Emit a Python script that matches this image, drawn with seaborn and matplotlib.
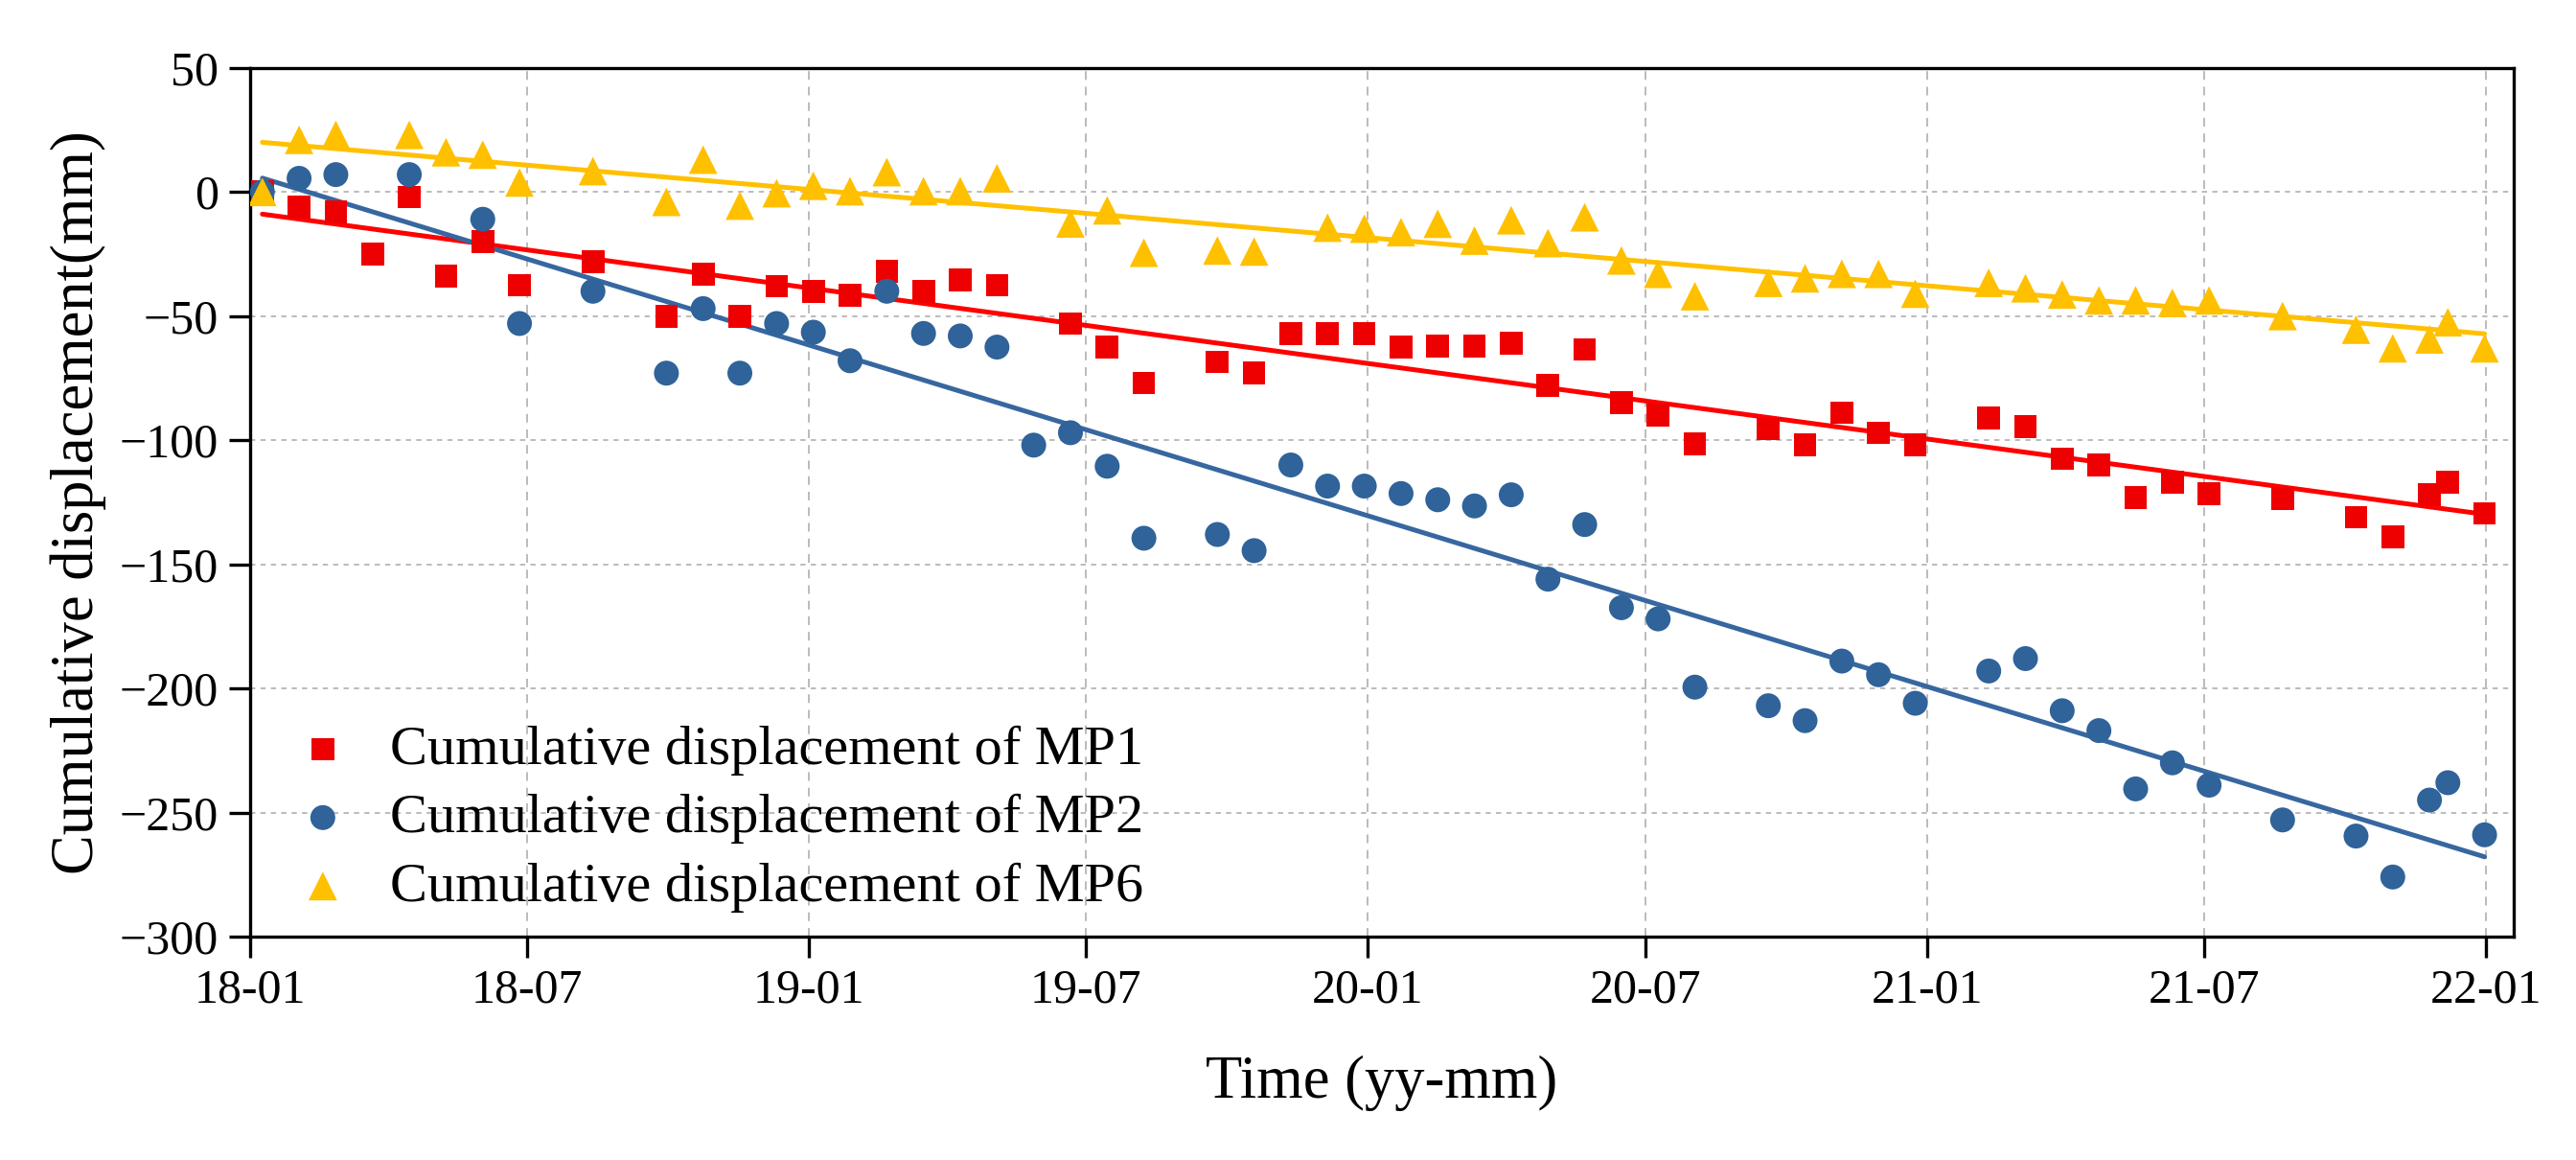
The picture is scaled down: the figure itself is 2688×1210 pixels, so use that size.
import matplotlib
matplotlib.use("Agg")
import matplotlib.pyplot as plt
import matplotlib.dates as mdates
import numpy as np
import pandas as pd
import seaborn as sns

# Measurement dates (yy-mm-dd), shared by the three monitoring points
dates = [
    "2018-01-09", "2018-02-02", "2018-02-26", "2018-03-22", "2018-04-15", "2018-05-09", "2018-06-02", "2018-06-26",
    "2018-08-13", "2018-09-30", "2018-10-24", "2018-11-17", "2018-12-11", "2019-01-04", "2019-01-28", "2019-02-21",
    "2019-03-17", "2019-04-10", "2019-05-04", "2019-05-28", "2019-06-21", "2019-07-15", "2019-08-08", "2019-09-25",
    "2019-10-19", "2019-11-12", "2019-12-06", "2019-12-30", "2020-01-23", "2020-02-16", "2020-03-11", "2020-04-04",
    "2020-04-28", "2020-05-22", "2020-06-15", "2020-07-09", "2020-08-02", "2020-09-19", "2020-10-13", "2020-11-06",
    "2020-11-30", "2020-12-24", "2021-02-10", "2021-03-06", "2021-03-30", "2021-04-23", "2021-05-17", "2021-06-10",
    "2021-07-04", "2021-08-21", "2021-10-08", "2021-11-01", "2021-11-25", "2021-12-07", "2021-12-31",
]

nan = np.nan
mp1 = [0, -6, -8, -25, -2, -34, -20, -37.5,
       -28, -50, -33, -50, -38, -40, -41.5, -32,
       -40, -35.5, -37.5, nan, -53, -62.5, -77, -68.5,
       -73, -57, -57, -57, -62.5, -62, -62, -61,
       -78, -63.5, -85, -90, -101.5, -95.5, -102, -89,
       -97, -102, -91, -94.5, -107.5, -110, -123, -117,
       -121.5, -123.5, -131, -139, -122, -117, -129.5]
mp2 = [0, 5.5, 7, nan, 7, nan, -11, -53,
       -40, -73, -47, -73, -53, -56.5, -68, -40,
       -57, -58, -62.5, -102, -97, -110.5, -139.5, -138,
       -144.5, -110, -118.5, -118.5, -121.5, -124, -126.5, -122,
       -156, -134, -167.5, -172, -199.5, -207, -213, -189,
       -194.5, -206, -193, -188, -209, -217, -240.5, -230,
       -239, -253, -259.5, -276, -245, -238, -259]
mp6 = [0, 21, 23, nan, 23, 16, 15, 3.8,
       8.4, -4, 13, -5.5, -0.5, 2.5, 0.3, 8,
       0.3, 0.3, 5.5, nan, -12.7, -7.4, -24.5, -23.6,
       -24, nan, -14.4, -14.8, -16.2, -12.8, -19.6, -11.4,
       -20.6, -10.2, -27.6, -33, -42, -36.6, -34.8, -33,
       -33, -41, -36.6, -38.8, -41.3, -43.7, -43.7, -44.7,
       -43.7, -50, -55.5, -63, -59.4, -52.5, -63]

labels = ["Cumulative displacement of MP1", "Cumulative displacement of MP2", "Cumulative displacement of MP6"]
marker_colors = ["#EE0000", "#2F6399", "#FFC000"]
line_colors = ["#FF0000", "#3767A0", "#FFC000"]
markers = ["s", "o", "^"]
sizes = [290, 350, 460]

sns.set_style("ticks")
plt.rcParams["font.family"] = ["Liberation Serif", "DejaVu Serif"]
plt.rcParams["text.color"] = "black"
plt.rcParams["axes.labelcolor"] = "black"

t = mdates.date2num(pd.to_datetime(dates))
df = pd.DataFrame({"t": t, "MP1": mp1, "MP2": mp2, "MP6": mp6})

fig, ax = plt.subplots(figsize=(26.88, 12.10), dpi=100)
fig.subplots_adjust(left=0.0971, right=0.9758, bottom=0.1926, top=0.9415)

for col, lab, mc, lc, mk, sz in zip(["MP1", "MP2", "MP6"], labels, marker_colors, line_colors, markers, sizes):
    sns.regplot(data=df, x="t", y=col, ax=ax, scatter=False, ci=None,
                line_kws={"color": lc, "linewidth": 3.6, "zorder": 2})
    sns.scatterplot(data=df, x="t", y=col, ax=ax, marker=mk, s=sz, color=mc,
                    edgecolor="none", label=lab, zorder=3)

ax.set_xlim(mdates.date2num(pd.Timestamp("2018-01-01")), mdates.date2num(pd.Timestamp("2022-01-19")))
ax.set_ylim(-300, 50)
ax.set_yticks(np.arange(-300, 51, 50))
ax.xaxis.set_major_locator(mdates.MonthLocator(bymonth=[1, 7]))
ax.xaxis.set_major_formatter(mdates.DateFormatter("%y-%m"))

ax.grid(axis="x", color="#B5B5B5", linestyle=(0, (5, 4)), lw=1.3)
ax.grid(axis="y", color="#B5B5B5", linestyle=(0, (3, 3)), lw=1.3)
for sp in ax.spines.values():
    sp.set_linewidth(2.4)
    sp.set_color("black")
ax.tick_params(axis="both", labelsize=36, length=16, width=2.4, pad=8, colors="black")

ax.set_xlabel("Time (yy-mm)", fontsize=45, labelpad=32)
ax.set_ylabel("Cumulative displacement(mm)", fontsize=45, labelpad=10)

ax.legend(loc="lower left", bbox_to_anchor=(0.0, -0.03), frameon=False, fontsize=42,
          handlelength=0.8, handletextpad=0.8, labelspacing=0.32, markerscale=1.0)

fig.savefig("out.png", dpi=100)
